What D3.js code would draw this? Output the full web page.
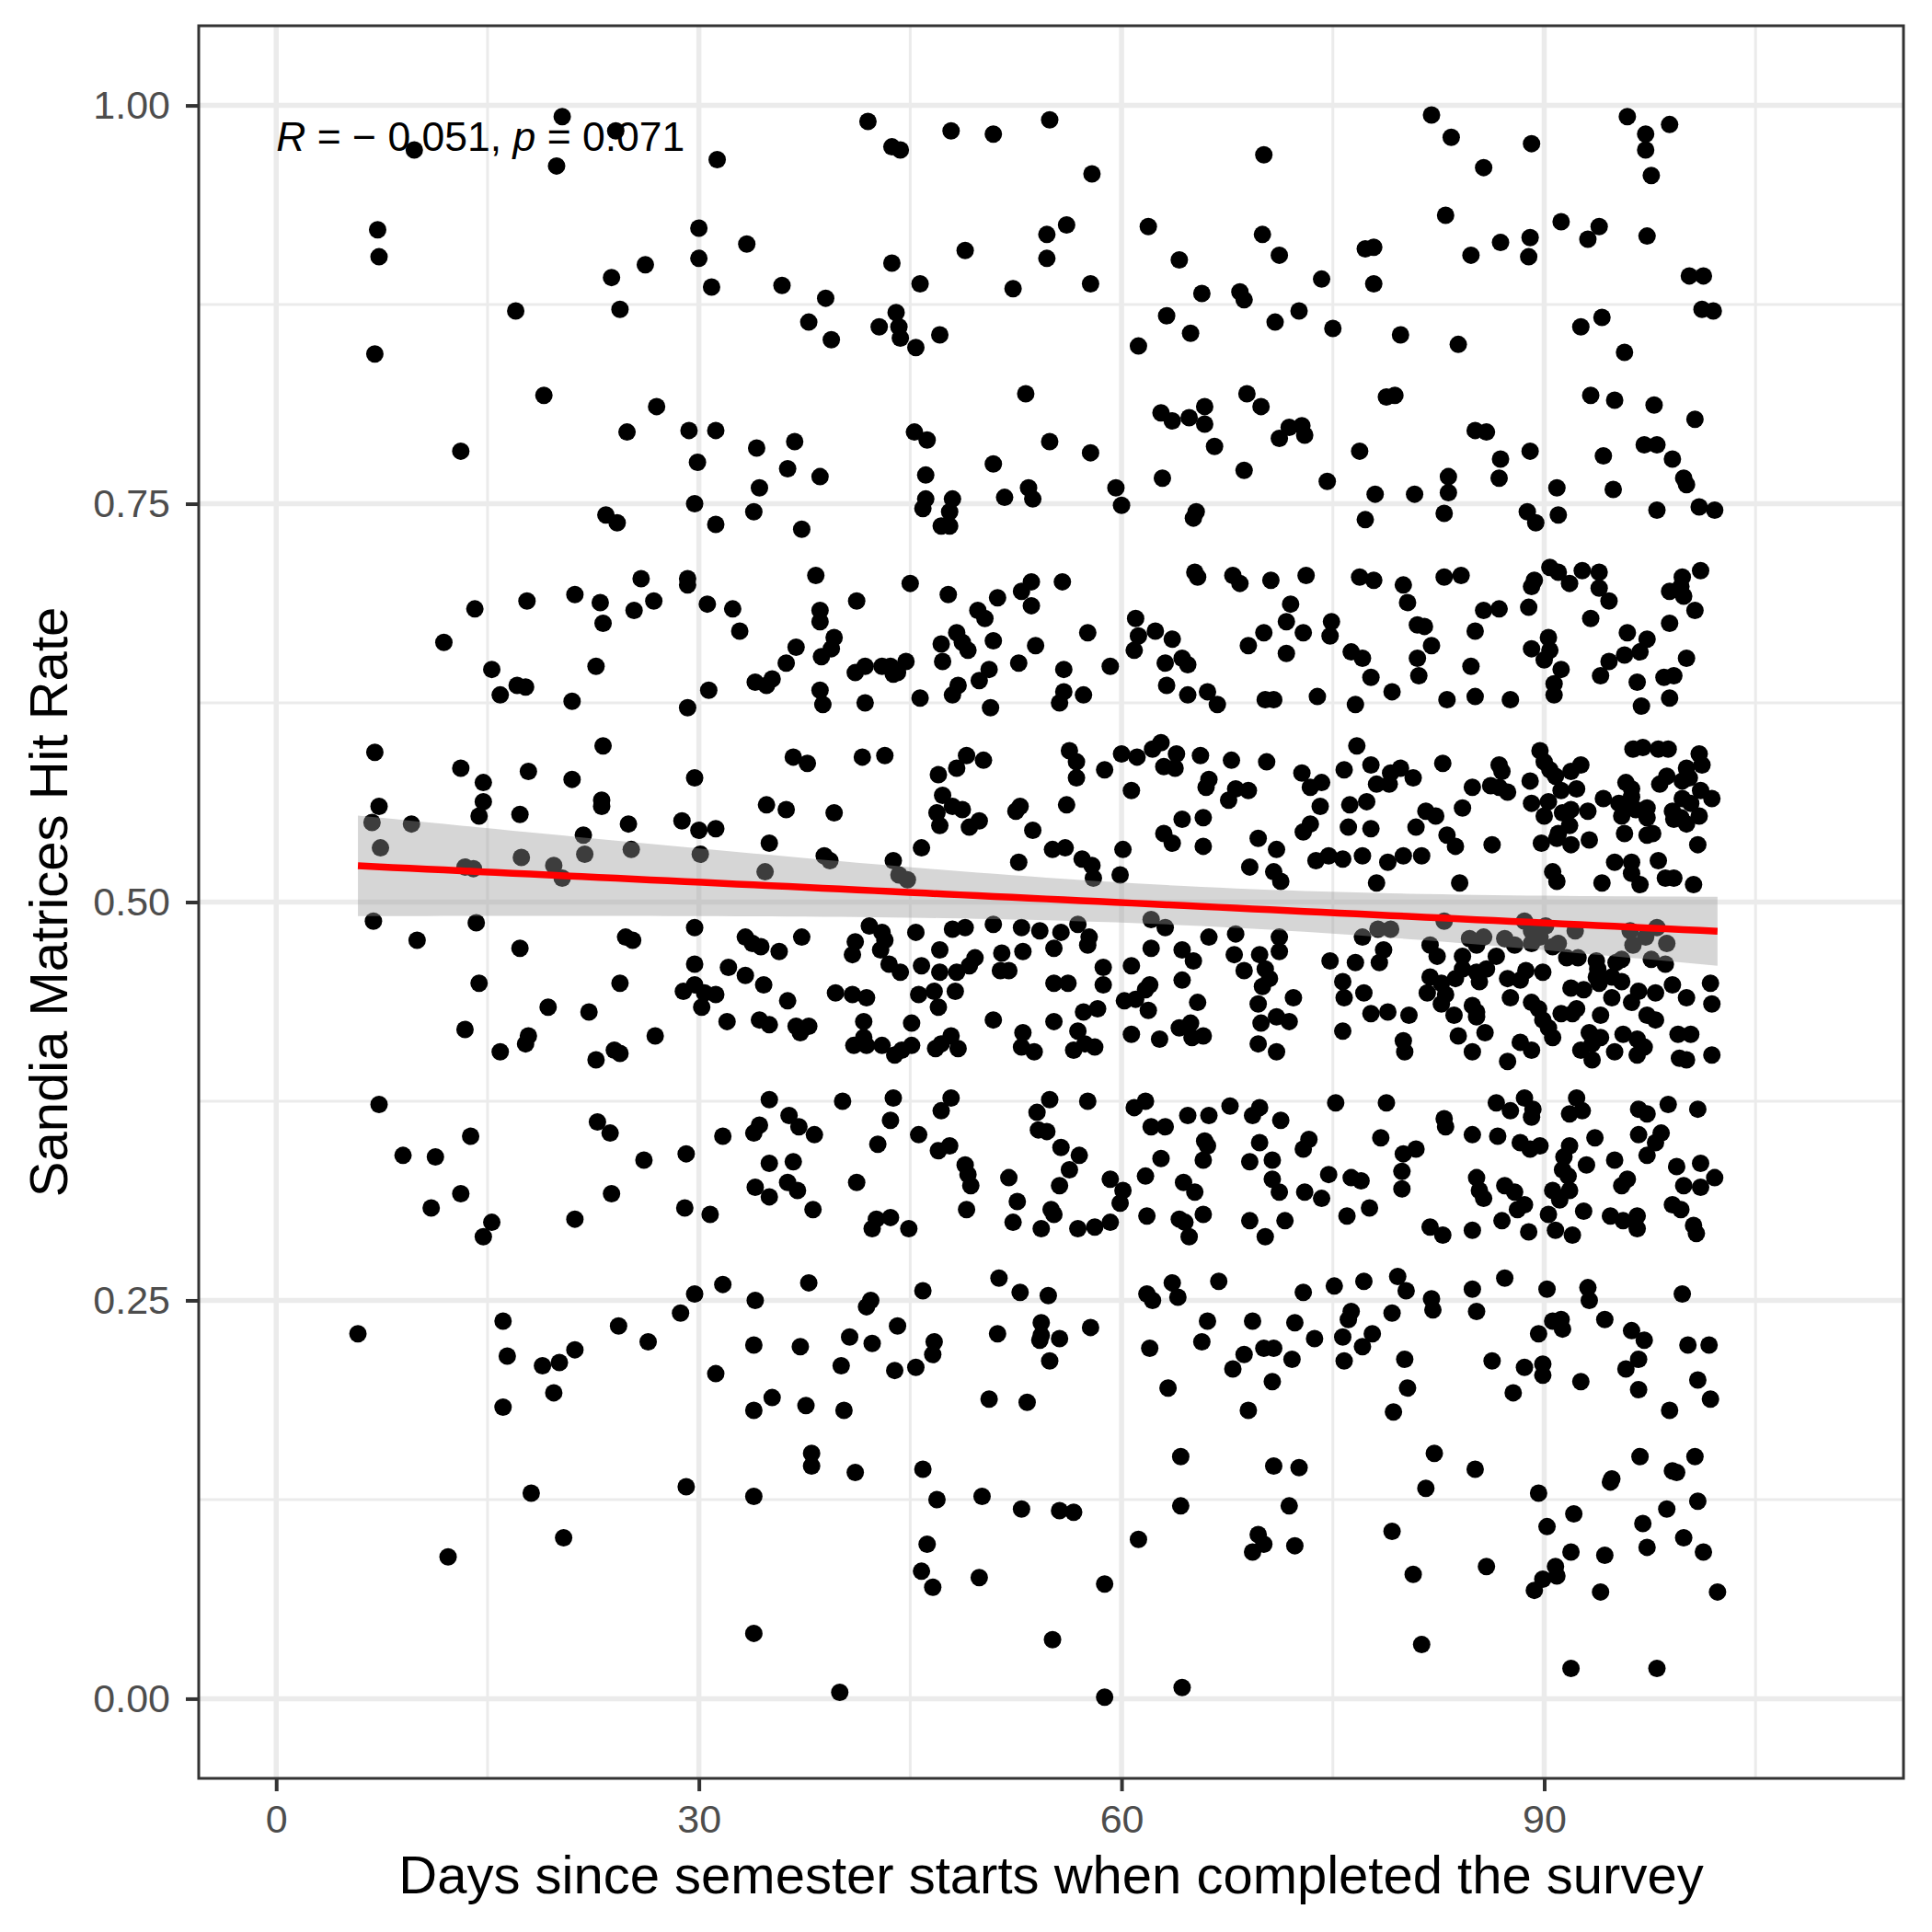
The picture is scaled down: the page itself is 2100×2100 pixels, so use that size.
<!DOCTYPE html>
<html>
<head>
<meta charset="utf-8">
<script src="https://cdn.jsdelivr.net/npm/d3@7"></script>
<style>
  body { margin: 0; background: #fff; }
  svg text { font-family: "Liberation Sans", Arial, sans-serif; }
</style>
</head>
<body>
<div id="scatter"></div>
<script>
// [days since semester start, Sandia Matrices hit rate]
var highScores = [
  [20.3,0.993],[24.1,0.984],[9.8,0.972],[19.9,0.962],[31.3,0.966],[7.2,0.922],[7.3,0.905],[30.0,0.923],[33.4,0.913],[26.2,0.900],[30.0,0.904],[23.8,0.892],[30.9,0.886],[17.0,0.871],[24.4,0.872],[7.0,0.844],[19.0,0.818],[27.0,0.811],[24.9,0.795],[29.3,0.796],[31.2,0.796],[34.1,0.785],[13.1,0.783],[29.9,0.776],[34.3,0.760],[29.7,0.750],[33.9,0.745],[23.4,0.743],[24.2,0.738],[31.2,0.737],[25.9,0.703],[29.2,0.703],[29.2,0.699],[21.2,0.693],[17.8,0.689],[23.0,0.688],[26.8,0.689],[14.1,0.684],[30.6,0.687],[32.4,0.684],[25.4,0.683],
  [42.0,0.990],[43.7,0.974],[44.3,0.972],[47.9,0.984],[50.9,0.982],[54.9,0.991],[57.9,0.957],[70.1,0.969],[56.1,0.925],[54.7,0.919],[54.7,0.904],[48.9,0.909],[61.9,0.924],[70.0,0.919],[71.2,0.906],[64.1,0.903],[43.7,0.901],[35.9,0.887],[39.0,0.879],[45.7,0.888],[52.3,0.885],[57.8,0.888],[65.7,0.882],[68.4,0.883],[68.7,0.878],[74.2,0.891],[44.0,0.870],[37.8,0.864],[42.8,0.861],[44.2,0.861],[44.3,0.854],[39.4,0.853],[45.4,0.848],[47.1,0.856],[63.2,0.868],[64.9,0.857],[61.2,0.849],[72.6,0.871],[70.9,0.864],[75.0,0.860],[53.2,0.819],[68.9,0.819],[69.9,0.811],[62.8,0.807],[63.6,0.802],[64.8,0.804],[65.9,0.811],[65.9,0.800],[66.6,0.786],[71.9,0.798],[72.8,0.799],[71.2,0.791],[73.0,0.793],[36.8,0.789],[45.3,0.795],[46.2,0.790],[54.9,0.789],[57.8,0.782],[36.3,0.772],[38.6,0.767],[46.1,0.768],[50.9,0.775],[62.9,0.766],[68.7,0.771],[74.6,0.764],[53.4,0.760],[51.7,0.754],[53.7,0.753],[46.1,0.753],[45.9,0.747],[48.0,0.753],[47.8,0.745],[47.2,0.736],[47.8,0.736],[59.6,0.760],[60.0,0.749],[65.3,0.745],[65.1,0.741],[37.3,0.734],[38.3,0.705],[45.0,0.700],[41.2,0.689],[38.6,0.683],[47.7,0.693],[49.8,0.683],[51.2,0.691],[52.9,0.695],[53.6,0.701],[53.6,0.686],[55.8,0.701],[65.2,0.707],[65.4,0.704],[67.9,0.705],[68.4,0.700],[70.6,0.702],[73.1,0.705],[72.0,0.687],
  [82.0,0.994],[83.4,0.980],[89.1,0.976],[85.7,0.961],[95.9,0.993],[97.2,0.982],[97.2,0.972],[98.9,0.988],[97.6,0.956],[83.0,0.931],[91.2,0.927],[93.9,0.924],[93.1,0.916],[97.3,0.918],[77.3,0.910],[77.9,0.911],[84.8,0.906],[86.9,0.914],[89.0,0.917],[88.9,0.905],[77.9,0.888],[100.3,0.893],[101.3,0.893],[101.2,0.872],[102.0,0.871],[79.8,0.856],[83.9,0.850],[92.6,0.861],[94.1,0.867],[95.7,0.845],[78.8,0.817],[79.4,0.818],[93.3,0.818],[95.0,0.815],[97.8,0.812],[100.7,0.803],[85.1,0.796],[85.9,0.795],[76.9,0.783],[86.9,0.778],[89.0,0.783],[94.2,0.780],[97.1,0.787],[98.0,0.787],[99.1,0.778],[99.9,0.766],[100.1,0.762],[83.2,0.767],[86.8,0.766],[78.0,0.756],[80.8,0.756],[83.2,0.757],[90.9,0.760],[94.9,0.759],[82.9,0.744],[77.3,0.740],[88.8,0.745],[89.4,0.738],[91.0,0.743],[98.0,0.746],[101.0,0.748],[102.1,0.746],[76.9,0.704],[77.9,0.702],[80.0,0.699],[80.3,0.688],[82.9,0.704],[84.1,0.705],[90.4,0.710],[91.0,0.707],[91.8,0.700],[92.7,0.708],[93.9,0.707],[93.9,0.697],[94.6,0.689],[89.3,0.702],[89.1,0.698],[88.9,0.685],[86.8,0.684],[85.7,0.683],[98.9,0.695],[99.8,0.704],[99.7,0.698],[99.9,0.692],[101.1,0.708],[100.7,0.683]
];

var midScores = [
  [23.2,0.675],[32.9,0.670],[11.9,0.663],[15.3,0.646],[17.1,0.636],[17.7,0.635],[15.9,0.630],[22.7,0.648],[21.0,0.626],[30.7,0.633],[29.2,0.622],[34.0,0.638],[34.8,0.636],[35.2,0.640],[7.0,0.594],[23.2,0.598],[13.1,0.584],[17.9,0.582],[14.7,0.575],[21.0,0.577],[29.7,0.578],[14.7,0.563],[14.4,0.554],[7.3,0.560],[6.8,0.550],[9.6,0.549],[17.3,0.555],[23.1,0.564],[23.1,0.560],[25.0,0.549],[28.8,0.551],[30.0,0.545],[31.2,0.546],[34.8,0.561],[21.8,0.542],[7.4,0.534],[21.9,0.530],[25.2,0.533],[30.1,0.530],[35.0,0.537],[17.4,0.528],[19.7,0.523],[13.4,0.522],[14.0,0.521],[20.3,0.515],[34.7,0.519],[6.9,0.488],[14.2,0.487],[10.0,0.476],[17.3,0.471],[24.8,0.478],[25.3,0.476],[29.7,0.484],[33.3,0.478],[33.8,0.474],[34.4,0.472],[29.7,0.461],[32.1,0.459],[33.3,0.454],[34.6,0.448],[14.4,0.449],[24.4,0.449],[28.9,0.444],[29.7,0.448],[30.4,0.443],[31.2,0.442],[30.2,0.434],[19.3,0.434],[22.2,0.431],[32.0,0.425],[34.3,0.426],[35.0,0.423],[13.4,0.420],[17.9,0.416],[17.7,0.411],[15.9,0.406],[26.9,0.416],[24.0,0.407],[24.4,0.405],[22.7,0.401],[7.3,0.373],[22.8,0.362],[23.7,0.355],[35.0,0.376],[34.3,0.360],[33.9,0.355],[13.8,0.353],[31.7,0.353],[9.0,0.341],[11.3,0.340],[26.1,0.338],[29.1,0.342],[35.0,0.336],[34.0,0.321],[13.1,0.317],[23.8,0.317],
  [38.6,0.676],[39.6,0.666],[39.4,0.659],[38.7,0.654],[36.9,0.660],[36.2,0.650],[38.6,0.633],[38.8,0.624],[41.1,0.644],[41.8,0.648],[43.0,0.648],[43.6,0.648],[43.8,0.643],[44.1,0.644],[44.7,0.651],[41.8,0.625],[45.7,0.628],[50.3,0.678],[48.3,0.669],[47.2,0.662],[48.7,0.663],[49.1,0.658],[50.9,0.664],[47.3,0.651],[50.6,0.646],[49.9,0.639],[48.4,0.636],[48.0,0.630],[50.7,0.622],[52.7,0.650],[53.9,0.661],[55.9,0.646],[55.9,0.632],[55.6,0.625],[57.3,0.630],[57.6,0.669],[59.2,0.648],[61.0,0.678],[61.2,0.667],[60.9,0.658],[62.4,0.670],[63.6,0.665],[63.1,0.650],[64.3,0.653],[64.7,0.649],[63.2,0.636],[64.7,0.630],[66.1,0.632],[66.8,0.624],[69.0,0.661],[70.1,0.669],[71.7,0.676],[71.7,0.656],[72.9,0.669],[74.8,0.667],[74.9,0.676],[70.2,0.627],[70.8,0.627],[73.9,0.629],
  [36.7,0.591],[37.7,0.587],[41.6,0.591],[43.2,0.592],[47.0,0.580],[48.3,0.584],[49.0,0.592],[50.2,0.589],[47.3,0.567],[46.9,0.556],[48.0,0.560],[48.7,0.558],[47.1,0.548],[49.2,0.547],[49.9,0.551],[36.2,0.558],[39.6,0.556],[56.3,0.595],[56.8,0.588],[56.8,0.578],[58.8,0.583],[60.0,0.593],[61.1,0.591],[62.2,0.596],[62.8,0.600],[63.9,0.593],[63.0,0.585],[63.8,0.584],[65.6,0.592],[67.8,0.589],[70.3,0.588],[60.7,0.570],[66.2,0.577],[66.0,0.572],[68.1,0.571],[69.0,0.570],[67.6,0.564],[72.8,0.581],[73.4,0.572],[74.2,0.575],[56.1,0.561],[52.8,0.560],[52.5,0.557],[53.7,0.545],[64.3,0.552],[65.8,0.553],[63.0,0.543],[63.6,0.537],[65.8,0.535],[74.1,0.560],[73.4,0.549],[72.9,0.544],[69.7,0.540],[71.0,0.533],[69.1,0.522],[70.8,0.519],[71.3,0.513],[73.8,0.526],[74.7,0.529],[45.8,0.534],[38.9,0.529],[39.3,0.526],[43.8,0.526],[44.2,0.517],[44.8,0.514],[52.7,0.525],[55.1,0.533],[56.0,0.534],[57.2,0.527],[57.9,0.523],[58.0,0.515],[59.9,0.517],[60.1,0.533],
  [37.3,0.478],[35.7,0.469],[41.1,0.475],[40.9,0.467],[42.1,0.485],[43.0,0.481],[43.2,0.476],[42.9,0.470],[45.4,0.481],[43.5,0.461],[44.3,0.456],[45.8,0.460],[47.1,0.470],[48.0,0.483],[48.9,0.484],[50.9,0.486],[52.9,0.484],[54.2,0.482],[55.7,0.481],[56.9,0.486],[57.7,0.478],[57.6,0.473],[55.2,0.471],[53.0,0.469],[51.5,0.468],[49.6,0.465],[49.2,0.460],[48.3,0.456],[47.1,0.456],[51.4,0.457],[52.0,0.457],[58.7,0.459],[58.7,0.448],[55.2,0.449],[56.2,0.449],[39.7,0.443],[40.9,0.442],[41.9,0.440],[36.3,0.438],[45.6,0.442],[46.7,0.444],[48.2,0.444],[47.0,0.434],[41.7,0.425],[45.1,0.424],[50.9,0.426],[55.2,0.425],[57.3,0.431],[58.3,0.433],[36.9,0.422],[37.8,0.422],[37.2,0.418],[41.7,0.415],[41.0,0.410],[41.9,0.410],[43.0,0.410],[43.9,0.404],[44.4,0.407],[45.1,0.410],[46.8,0.408],[47.2,0.411],[47.9,0.416],[48.4,0.408],[53.0,0.418],[52.9,0.409],[53.8,0.406],[56.9,0.419],[56.6,0.407],[57.4,0.411],[58.1,0.409],[62.1,0.489],[63.1,0.484],[62.1,0.471],[60.7,0.460],[64.3,0.470],[65.1,0.463],[66.2,0.478],[68.1,0.480],[68.0,0.467],[68.7,0.457],[69.8,0.467],[71.2,0.478],[71.2,0.469],[70.2,0.458],[70.5,0.452],[70.0,0.447],[64.3,0.451],[62.0,0.448],[61.7,0.445],[60.2,0.438],[61.0,0.439],[61.9,0.432],[65.4,0.437],[69.7,0.436],[72.2,0.440],[74.8,0.463],[60.7,0.417],[62.7,0.414],[64.1,0.421],[64.9,0.424],[65.0,0.415],[65.8,0.416],[69.9,0.424],[71.0,0.428],[71.9,0.425],[69.7,0.411],[71.0,0.406],
  [36.4,0.366],[37.1,0.359],[38.2,0.354],[40.2,0.375],[43.8,0.377],[43.6,0.363],[42.7,0.348],[45.6,0.354],[47.9,0.377],[47.2,0.369],[47.0,0.344],[47.8,0.347],[48.9,0.335],[49.1,0.329],[49.3,0.322],[36.7,0.337],[36.3,0.324],[37.0,0.319],[41.2,0.324],[52.0,0.327],[54.9,0.376],[54.0,0.368],[54.1,0.357],[54.7,0.356],[55.7,0.346],[57.0,0.341],[56.3,0.332],[55.6,0.322],[57.6,0.375],[59.2,0.326],[60.1,0.319],[60.9,0.371],[61.7,0.375],[62.1,0.359],[63.1,0.359],[64.7,0.366],[66.2,0.366],[67.7,0.372],[69.8,0.371],[69.3,0.366],[71.3,0.363],[65.9,0.350],[66.1,0.347],[69.8,0.349],[62.8,0.339],[61.7,0.328],[65.8,0.338],[69.1,0.337],[70.7,0.338],[73.3,0.351],[72.9,0.345],[75.2,0.374],[70.7,0.326],[74.7,0.329],[64.4,0.324],[65.2,0.318],[71.2,0.318],[73.0,0.318],
  [93.3,0.678],[81.0,0.674],[81.5,0.673],[85.1,0.670],[98.9,0.675],[90.3,0.666],[89.1,0.659],[90.4,0.658],[90.0,0.652],[91.2,0.646],[90.7,0.637],[90.7,0.630],[95.9,0.669],[97.3,0.665],[95.7,0.655],[96.8,0.657],[94.6,0.651],[94.0,0.642],[96.6,0.638],[100.1,0.653],[98.5,0.641],[99.2,0.642],[98.9,0.628],[96.9,0.623],[76.3,0.657],[77.1,0.653],[77.7,0.641],[79.2,0.632],[76.6,0.624],[82.0,0.661],[81.0,0.653],[81.1,0.642],[84.8,0.648],[83.1,0.627],[85.1,0.629],[87.6,0.627],
  [76.7,0.598],[75.8,0.583],[77.7,0.586],[79.1,0.581],[79.8,0.584],[80.7,0.578],[78.1,0.574],[79.0,0.574],[82.8,0.587],[86.8,0.586],[87.0,0.582],[84.9,0.572],[86.2,0.573],[86.8,0.572],[87.4,0.569],[76.2,0.561],[77.4,0.563],[84.2,0.559],[81.6,0.557],[82.3,0.554],[76.1,0.547],[77.7,0.546],[80.9,0.547],[83.1,0.542],[83.7,0.535],[86.3,0.536],[75.7,0.527],[77.1,0.529],[78.9,0.525],[80.0,0.529],[81.3,0.529],[78.1,0.512],[84.0,0.512],[89.7,0.595],[90.0,0.588],[90.4,0.583],[90.8,0.579],[91.2,0.570],[91.9,0.582],[92.6,0.586],[89.0,0.576],[89.1,0.562],[90.3,0.563],[92.3,0.571],[90.0,0.554],[91.3,0.556],[91.9,0.558],[93.1,0.557],[91.8,0.548],[91.0,0.543],[90.9,0.540],[89.8,0.537],[91.9,0.536],[93.2,0.539],[94.2,0.565],[95.8,0.575],[96.2,0.571],[96.2,0.566],[95.3,0.562],[96.0,0.562],[95.5,0.554],[96.5,0.558],[97.3,0.559],[97.3,0.553],[95.7,0.543],[97.3,0.542],[97.7,0.543],[96.3,0.596],[97.0,0.597],[98.1,0.596],[98.8,0.596],[101.0,0.593],[101.2,0.586],[100.1,0.584],[100.3,0.578],[98.7,0.579],[98.2,0.574],[99.8,0.576],[101.1,0.570],[99.8,0.565],[100.4,0.562],[101.9,0.565],[99.1,0.557],[99.7,0.553],[99.2,0.552],[100.1,0.549],[101.0,0.554],[100.9,0.536],[95.0,0.525],[96.2,0.525],[96.2,0.518],[96.8,0.511],[98.1,0.526],[98.6,0.515],[99.2,0.515],[100.6,0.511],[94.1,0.512],[90.6,0.519],[90.9,0.513],
  [82.9,0.488],[78.2,0.483],[79.1,0.483],[77.1,0.478],[78.6,0.470],[78.3,0.462],[76.6,0.462],[81.9,0.473],[82.4,0.466],[84.7,0.477],[85.2,0.473],[85.7,0.478],[84.2,0.466],[86.6,0.466],[87.2,0.477],[87.9,0.473],[88.6,0.488],[89.1,0.482],[89.7,0.478],[90.1,0.485],[89.1,0.474],[91.0,0.474],[92.2,0.482],[90.6,0.472],[91.6,0.465],[92.4,0.465],[93.7,0.463],[93.8,0.458],[96.1,0.482],[96.3,0.473],[97.2,0.478],[98.0,0.484],[98.7,0.474],[95.5,0.464],[95.1,0.462],[97.6,0.464],[98.6,0.461],[75.7,0.450],[75.8,0.440],[77.2,0.443],[75.7,0.419],[81.9,0.453],[82.7,0.449],[83.7,0.452],[84.2,0.458],[85.2,0.456],[85.9,0.458],[85.4,0.450],[81.7,0.443],[83.0,0.442],[82.7,0.436],[83.6,0.429],[84.9,0.435],[85.2,0.431],[85.2,0.428],[87.4,0.452],[88.3,0.451],[88.7,0.457],[89.9,0.456],[87.6,0.440],[77.7,0.430],[78.9,0.431],[80.4,0.429],[83.9,0.416],[85.8,0.418],[80.0,0.413],[80.1,0.406],[84.9,0.406],[88.3,0.412],[89.1,0.407],[87.4,0.400],[89.1,0.437],[89.6,0.433],[89.9,0.426],[90.3,0.421],[90.6,0.415],[91.2,0.430],[92.0,0.430],[92.3,0.433],[91.9,0.446],[92.8,0.445],[93.9,0.449],[93.7,0.453],[94.8,0.453],[95.5,0.450],[94.8,0.440],[94.0,0.429],[93.2,0.418],[94.0,0.415],[92.6,0.407],[93.4,0.411],[93.4,0.401],[95.0,0.406],[95.6,0.417],[96.6,0.414],[97.1,0.409],[96.6,0.404],[96.7,0.444],[96.2,0.437],[97.9,0.443],[97.3,0.429],[97.9,0.426],[99.1,0.448],[100.1,0.440],[101.8,0.449],[101.9,0.436],[99.5,0.417],[100.4,0.417],[99.6,0.402],[100.1,0.401],[101.9,0.404],
  [78.8,0.374],[82.9,0.364],[83.0,0.359],[78.4,0.352],[84.9,0.354],[86.7,0.353],[86.6,0.374],[87.6,0.369],[88.6,0.377],[89.2,0.370],[89.1,0.365],[88.3,0.349],[89.7,0.347],[89.0,0.345],[92.3,0.377],[91.8,0.367],[92.7,0.369],[93.6,0.352],[91.8,0.347],[91.4,0.340],[91.3,0.332],[91.7,0.328],[93.0,0.335],[95.0,0.338],[95.9,0.326],[95.5,0.322],[96.7,0.370],[97.3,0.367],[98.8,0.373],[100.9,0.370],[96.7,0.354],[98.3,0.355],[97.9,0.349],[97.3,0.341],[99.4,0.334],[101.1,0.336],[102.1,0.327],[99.9,0.322],[101.1,0.321],[80.0,0.342],[80.9,0.345],[79.9,0.331],[79.9,0.320],[76.3,0.327],[77.0,0.325],[85.2,0.327],[85.4,0.319],[87.2,0.322],[87.9,0.318],[90.6,0.319],[91.8,0.319]
];

var lowScores = [
  [35.0,0.315],[11.0,0.308],[15.3,0.299],[14.7,0.290],[21.2,0.301],[29.0,0.308],[30.8,0.304],[31.7,0.260],[29.7,0.254],[34.0,0.250],[28.7,0.242],[16.1,0.237],[5.8,0.229],[24.3,0.234],[26.4,0.224],[21.2,0.219],[20.1,0.211],[18.9,0.209],[16.4,0.215],[33.9,0.222],[31.2,0.204],[19.7,0.192],[16.1,0.183],[33.9,0.181],[35.2,0.189],[18.1,0.129],[29.1,0.133],[33.9,0.127],[20.4,0.101],[12.2,0.089],[33.9,0.041],
  [74.2,0.314],[38.1,0.307],[42.6,0.301],[42.3,0.295],[43.6,0.302],[44.9,0.295],[49.0,0.307],[52.6,0.312],[52.3,0.299],[55.0,0.307],[55.2,0.304],[54.3,0.295],[56.9,0.295],[58.1,0.296],[59.2,0.299],[59.9,0.311],[61.8,0.303],[64.1,0.301],[64.5,0.299],[64.8,0.290],[65.8,0.304],[69.1,0.300],[70.2,0.290],[71.6,0.300],[37.8,0.261],[42.2,0.250],[41.9,0.246],[45.9,0.256],[51.3,0.264],[52.8,0.255],[54.8,0.253],[61.8,0.254],[62.2,0.250],[63.6,0.261],[64.0,0.252],[66.9,0.262],[72.9,0.255],[75.1,0.259],[44.1,0.234],[40.7,0.227],[42.3,0.223],[37.2,0.221],[46.7,0.224],[46.6,0.216],[40.1,0.209],[43.9,0.206],[45.4,0.208],[51.2,0.229],[54.3,0.236],[54.3,0.228],[54.2,0.225],[55.6,0.226],[54.9,0.212],[57.8,0.233],[62.0,0.220],[66.1,0.237],[65.7,0.224],[69.3,0.237],[72.3,0.236],[73.7,0.226],[70.1,0.220],[70.8,0.220],[68.7,0.216],[72.1,0.213],[67.9,0.207],[70.7,0.199],[63.3,0.195],[69.0,0.181],[37.6,0.184],[40.3,0.181],[50.6,0.188],[53.3,0.186],[38.0,0.154],[38.0,0.146],[41.1,0.142],[45.9,0.144],[46.9,0.125],[50.1,0.127],[52.9,0.119],[55.6,0.118],[56.6,0.117],[64.2,0.152],[64.2,0.121],[70.8,0.146],[72.6,0.145],[71.9,0.121],[61.2,0.100],[69.7,0.103],[70.1,0.097],[69.3,0.092],[72.3,0.096],[46.2,0.097],[45.8,0.080],[46.6,0.070],[49.9,0.076],[58.8,0.072],[55.1,0.037],[40.0,0.004],[58.8,0.001],[64.3,0.007],
  [76.0,0.303],[77.6,0.308],[85.7,0.314],[88.6,0.310],[88.1,0.307],[87.0,0.300],[84.9,0.294],[81.9,0.296],[82.8,0.291],[88.9,0.293],[90.3,0.304],[91.1,0.313],[90.8,0.294],[92.0,0.291],[92.8,0.306],[94.7,0.303],[95.6,0.300],[96.6,0.303],[96.6,0.295],[99.1,0.310],[99.7,0.307],[100.6,0.297],[100.8,0.292],[77.2,0.262],[79.6,0.265],[80.2,0.256],[82.0,0.251],[82.1,0.244],[84.9,0.257],[87.2,0.264],[85.2,0.243],[90.2,0.257],[93.1,0.258],[93.2,0.250],[99.8,0.254],[76.3,0.243],[76.1,0.238],[75.7,0.227],[77.8,0.229],[77.1,0.221],[75.8,0.212],[79.2,0.242],[80.1,0.213],[80.3,0.195],[79.3,0.180],[86.3,0.212],[88.6,0.208],[87.8,0.192],[89.9,0.210],[89.9,0.203],[89.6,0.229],[90.6,0.237],[91.2,0.238],[91.3,0.232],[94.3,0.238],[92.6,0.199],[96.2,0.231],[97.1,0.225],[96.7,0.213],[95.8,0.207],[96.7,0.194],[100.2,0.222],[101.7,0.222],[100.9,0.200],[101.8,0.188],[98.9,0.181],[82.2,0.154],[85.1,0.144],[81.6,0.132],[79.2,0.105],[80.7,0.078],[85.9,0.083],[89.6,0.129],[90.2,0.108],[92.1,0.116],[91.9,0.092],[90.8,0.083],[90.9,0.077],[89.9,0.075],[89.3,0.068],[94.3,0.090],[94.0,0.067],[96.8,0.152],[94.8,0.138],[94.7,0.136],[99.1,0.143],[99.4,0.142],[100.7,0.152],[100.9,0.124],[98.7,0.119],[97.0,0.110],[97.3,0.095],[99.9,0.101],[101.3,0.092],[102.3,0.067],[81.3,0.034],[91.9,0.019],[98.0,0.019]
];

var xTicks = [0, 30, 60, 90];
var xMinor = [15, 45, 75, 105];
var yTicks = [0, 0.25, 0.5, 0.75, 1];
var yMinor = [0.125, 0.375, 0.625, 0.875];
var corR = "0.051";
var corP = "0.071";

var svgWidth = 2100;
var svgHeight = 2100;

var margin = {
    top: 28,
    right: 31,
    bottom: 167,
    left: 216
};

var width = svgWidth - margin.left - margin.right;
var height = svgHeight - margin.top - margin.bottom;

var data = highScores.concat(midScores, lowScores).map(d => ({days: d[0], rate: d[1]}));

var svg = d3.select("#scatter").append("svg")
    .attr("width", svgWidth).attr("height", svgHeight);

svg.append("rect").attr("width", svgWidth).attr("height", svgHeight).attr("fill", "white");

var chartGroup = svg.append("g")
    .attr("transform", `translate(${margin.left}, ${margin.top})`);

var xLinearScale = d3.scaleLinear().domain([-5.5, 115.5]).range([0, width]);
var yLinearScale = d3.scaleLinear().domain([-0.05, 1.05]).range([height, 0]);

// grid: minor first, then major
chartGroup.selectAll(".xminor").data(xMinor).enter().append("line")
    .attr("x1", d => xLinearScale(d)).attr("x2", d => xLinearScale(d))
    .attr("y1", 0).attr("y2", height)
    .attr("stroke", "#ebebeb").attr("stroke-width", 3);
chartGroup.selectAll(".yminor").data(yMinor).enter().append("line")
    .attr("y1", d => yLinearScale(d)).attr("y2", d => yLinearScale(d))
    .attr("x1", 0).attr("x2", width)
    .attr("stroke", "#ebebeb").attr("stroke-width", 3);
chartGroup.selectAll(".xmajor").data(xTicks).enter().append("line")
    .attr("x1", d => xLinearScale(d)).attr("x2", d => xLinearScale(d))
    .attr("y1", 0).attr("y2", height)
    .attr("stroke", "#ebebeb").attr("stroke-width", 5.5);
chartGroup.selectAll(".ymajor").data(yTicks).enter().append("line")
    .attr("y1", d => yLinearScale(d)).attr("y2", d => yLinearScale(d))
    .attr("x1", 0).attr("x2", width)
    .attr("stroke", "#ebebeb").attr("stroke-width", 5.5);

chartGroup.append("g").selectAll("circle")
    .data(data).enter().append("circle")
    .attr("cx", d => xLinearScale(d.days)).attr("cy", d => yLinearScale(d.rate))
    .attr("r", 9.5).attr("fill", "black");

// linear fit with 95% confidence band
var n = data.length;
var mx = d3.mean(data, d => d.days);
var my = d3.mean(data, d => d.rate);
var sxx = d3.sum(data, d => (d.days - mx) * (d.days - mx));
var sxy = d3.sum(data, d => (d.days - mx) * (d.rate - my));
var slope = sxy / sxx;
var intercept = my - slope * mx;
var s2 = d3.sum(data, d => Math.pow(d.rate - (intercept + slope * d.days), 2)) / (n - 2);
var xMin = d3.min(data, d => d.days);
var xMax = d3.max(data, d => d.days);
var fit = d3.range(80).map(i => {
    var x = xMin + (xMax - xMin) * i / 79;
    var y = intercept + slope * x;
    var se = Math.sqrt(s2 * (1 / n + (x - mx) * (x - mx) / sxx));
    return {x: x, y: y, lo: y - 1.962 * se, hi: y + 1.962 * se};
});

chartGroup.append("path").datum(fit)
    .attr("d", d3.area().x(d => xLinearScale(d.x)).y0(d => yLinearScale(d.lo)).y1(d => yLinearScale(d.hi)))
    .attr("fill", "#999999").attr("fill-opacity", 0.4);

chartGroup.append("path").datum(fit)
    .attr("d", d3.line().x(d => xLinearScale(d.x)).y(d => yLinearScale(d.y)))
    .attr("fill", "none").attr("stroke", "#ff0000").attr("stroke-width", 7.5);

var cor = chartGroup.append("text")
    .attr("x", xLinearScale(0)).attr("y", yLinearScale(1) + 49)
    .attr("font-size", 44.5).attr("fill", "black");
cor.append("tspan").attr("font-style", "italic").text("R");
cor.append("tspan").text(" = \u2212 " + corR + ", ");
cor.append("tspan").attr("font-style", "italic").text("p");
cor.append("tspan").text(" = " + corP);

chartGroup.append("rect")
    .attr("width", width).attr("height", height)
    .attr("fill", "none").attr("stroke", "#333333").attr("stroke-width", 3);

var bottomAxis = d3.axisBottom(xLinearScale).tickValues(xTicks).tickFormat(d3.format("d"))
    .tickSize(14).tickPadding(14.5);
var leftAxis = d3.axisLeft(yLinearScale).tickValues(yTicks).tickFormat(d3.format(".2f"))
    .tickSize(14).tickPadding(17);

var xAxisG = chartGroup.append("g").attr("transform", `translate(0, ${height})`).call(bottomAxis);
var yAxisG = chartGroup.append("g").call(leftAxis);
[xAxisG, yAxisG].forEach(g => {
    g.select(".domain").remove();
    g.selectAll(".tick line").attr("stroke", "#333333").attr("stroke-width", 4);
    g.selectAll(".tick text").attr("fill", "#4d4d4d").attr("font-size", 43)
        .attr("font-family", "'Liberation Sans', Arial, sans-serif");
});

chartGroup.append("text")
    .attr("x", width / 2).attr("y", height + 125)
    .attr("text-anchor", "middle").attr("font-size", 58).attr("fill", "black")
    .text("Days since semester starts when completed the survey");

chartGroup.append("text")
    .attr("transform", `translate(${73 - margin.left}, ${height / 2}) rotate(-90)`)
    .attr("text-anchor", "middle").attr("font-size", 58).attr("fill", "black")
    .text("Sandia Matrices Hit Rate");
</script>
</body>
</html>
